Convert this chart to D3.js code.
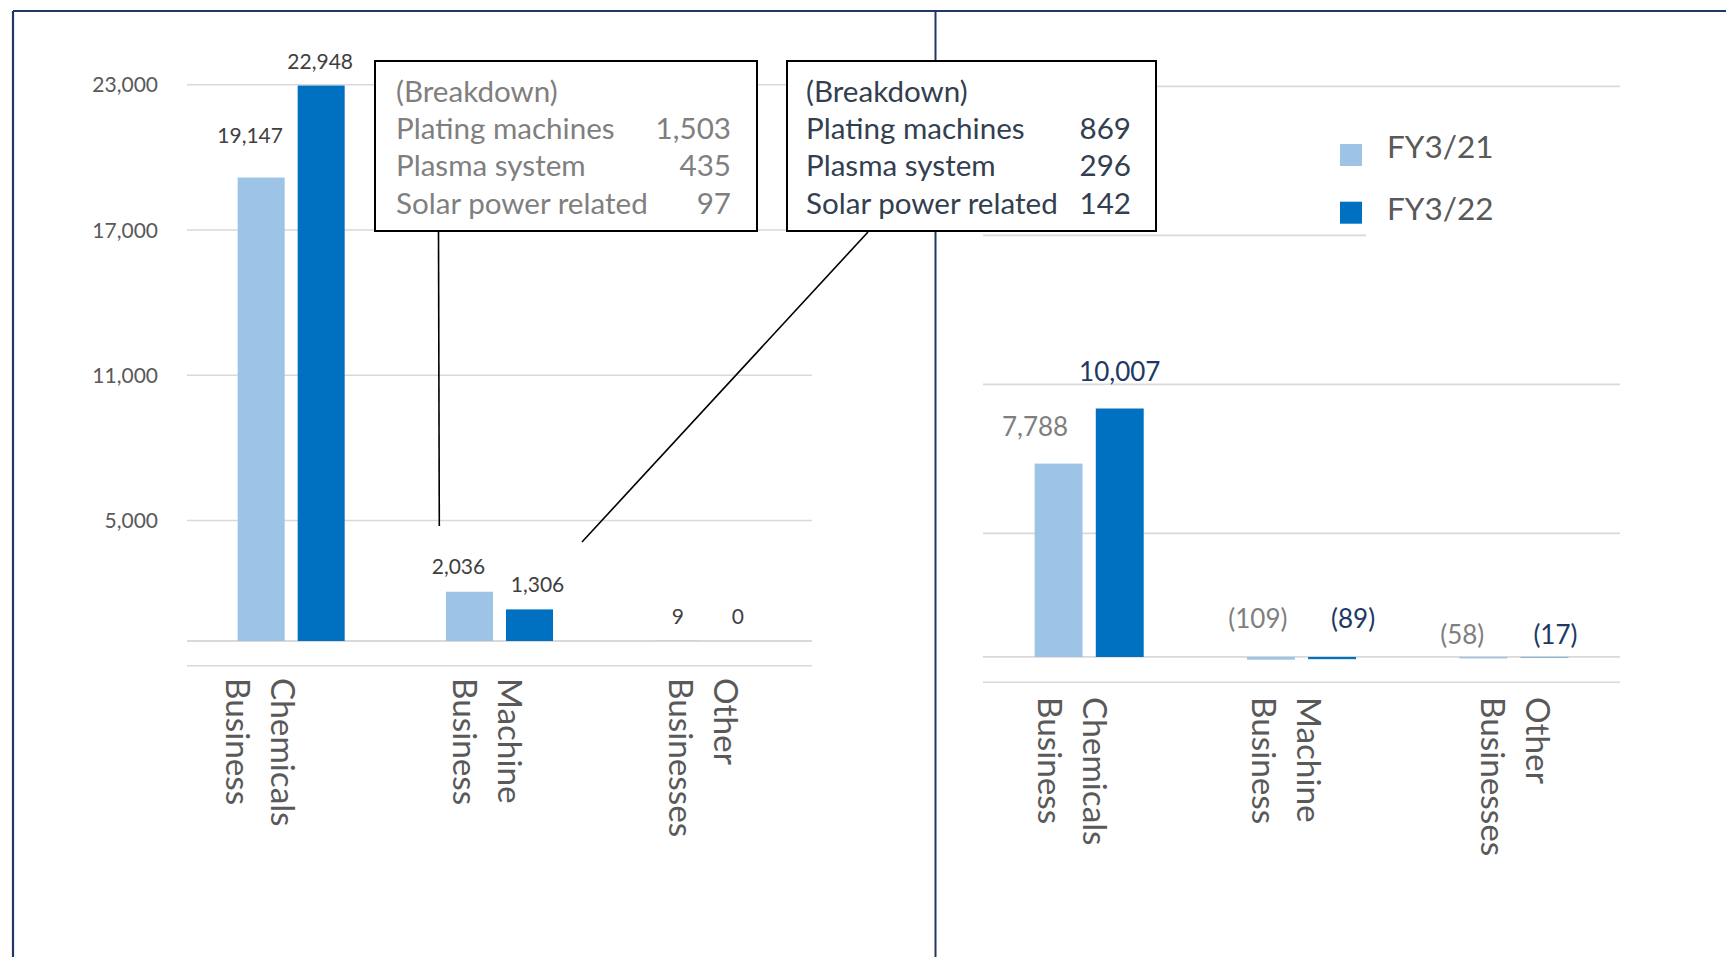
<!DOCTYPE html>
<html>
<head>
<meta charset="utf-8">
<script src="https://cdn.jsdelivr.net/npm/d3@7"></script>
<style>
  html, body { margin: 0; padding: 0; background: #fff; }
  svg { display: block; }
</style>
</head>
<body>
<script>
// ---------------- DATA ----------------
const categories = ["Chemicals Business", "Machine Business", "Other Businesses"];
const categoryLines = [["Chemicals", "Business"], ["Machine", "Business"], ["Other", "Businesses"]];
const series = ["FY3/21", "FY3/22"];
const salesFY21 = [19147, 2036, 9];
const salesFY22 = [22948, 1306, 0];
const profitFY21 = [7788, -109, -58];
const profitFY22 = [10007, -89, -17];
const gridTicks = [-1000, 5000, 11000, 17000, 23000];
const breakdownTitle = "(Breakdown)";
const breakdownItems = ["Plating machines", "Plasma system", "Solar power related"];
const breakdownFY21 = [1503, 435, 97];
const breakdownFY22 = [869, 296, 142];

// ---------------- STYLE ----------------
const W = 1726, H = 957;
const FONT = "Lato, 'Open Sans', sans-serif";
const colors = { "FY3/21": "#9DC3E6", "FY3/22": "#0070C0" };
const gridColor = "#D9D9D9";
const navy = "#1F3864";

const svg = d3.select("body").append("svg").attr("width", W).attr("height", H)
  .style("font-family", FONT);

// frame lines
svg.append("line").attr("x1", 13).attr("x2", W).attr("y1", 11).attr("y2", 11)
  .attr("stroke", navy).attr("stroke-width", 2.2);
svg.append("line").attr("x1", 13).attr("x2", 13).attr("y1", 11).attr("y2", H)
  .attr("stroke", navy).attr("stroke-width", 2.2);
svg.append("line").attr("x1", 935.5).attr("x2", 935.5).attr("y1", 11).attr("y2", H)
  .attr("stroke", navy).attr("stroke-width", 2);

// ---------------- CHART FACTORY ----------------
function drawChart(cfg) {
  const x0 = d3.scaleBand().domain(categories).range(cfg.xRange);
  const x1 = d3.scaleBand().domain(series).range([0, x0.bandwidth()])
    .paddingInner(0.2167).paddingOuter(0.844);
  const y = d3.scaleLinear().domain([gridTicks[0], gridTicks[gridTicks.length - 1]]).range(cfg.yRange);
  const g = svg.append("g");

  // gridlines + tick labels through axis
  const axis = d3.axisLeft(y).tickValues(gridTicks)
    .tickSize(-(cfg.xRange[1] - cfg.xRange[0])).tickPadding(29)
    .tickFormat(d => (cfg.showTicks && d > 0) ? d3.format(",")(d) : "");
  const ag = g.append("g").attr("transform", `translate(${cfg.xRange[0]},0)`).call(axis);
  ag.select(".domain").remove();
  ag.selectAll(".tick line").attr("stroke", gridColor).attr("stroke-width", 1.6);
  ag.selectAll(".tick text").attr("fill", "#595959").style("font-size", "21px")
    .style("font-family", FONT).attr("dy", "0.36em");

  // category axis line at zero
  g.append("line").attr("x1", cfg.xRange[0]).attr("x2", cfg.xRange[1])
    .attr("y1", y(0)).attr("y2", y(0)).attr("stroke", gridColor).attr("stroke-width", 1.8);

  const vals = { "FY3/21": cfg.v21, "FY3/22": cfg.v22 };
  const rows = [];
  categories.forEach((c, i) => series.forEach((s, j) => rows.push({ c, i, s, j, v: vals[s][i] })));

  g.selectAll("rect.bar").data(rows).join("rect").attr("class", "bar")
    .attr("x", d => x0(d.c) + x1(d.s))
    .attr("width", x1.bandwidth())
    .attr("y", d => y(Math.max(0, d.v)))
    .attr("height", d => Math.abs(y(d.v) - y(0)))
    .attr("fill", d => colors[d.s]);

  // value labels
  g.selectAll("text.val").data(rows).join("text").attr("class", "val")
    .attr("x", d => x0(d.c) + x1(d.s) + x1.bandwidth() / 2 + cfg.nudge[d.s][d.i][0])
    .attr("y", d => y(Math.max(0, d.v)) - cfg.labelGap + cfg.nudge[d.s][d.i][1])
    .attr("text-anchor", "middle")
    .style("font-size", cfg.labelSize + "px")
    .attr("fill", d => cfg.labelColor[d.s])
    .text(d => cfg.fmt(d.v));

  // category labels (rotated, two lines)
  categories.forEach((c, i) => {
    const bx = x0(c) + x0.bandwidth() / 2 + cfg.catNudge[i];
    const t = g.append("text")
      .attr("transform", `translate(${bx},${cfg.catTop}) rotate(90)`)
      .attr("fill", "#595959").style("font-size", "33.3px");
    categoryLines[i].forEach((ln, k) => {
      t.append("tspan").attr("x", 0).attr("y", k * 45).text(ln);
    });
  });
  return { x0, x1, y };
}

const fmtPlain = d3.format(",");
const fmtParen = v => v < 0 ? "(" + fmtPlain(-v) + ")" : fmtPlain(v);

drawChart({
  xRange: [187, 812], yRange: [665.2, 84.3], showTicks: true,
  v21: salesFY21, v22: salesFY22, labelGap: 17, labelSize: 21,
  labelColor: { "FY3/21": "#404040", "FY3/22": "#404040" },
  nudge: { "FY3/21": [[-11, -17.5], [-11, -0.5], [0, 0]], "FY3/22": [[-1, 0], [8, 0], [0, 0]] },
  fmt: fmtPlain, catNudge: [-20, -2, 6], catTop: 678
});

drawChart({
  xRange: [983, 1620], yRange: [681.8, 85.9], showTicks: false,
  v21: profitFY21, v22: profitFY22, labelGap: 28, labelSize: 26,
  labelColor: { "FY3/21": "#7F7F7F", "FY3/22": "#203864" },
  nudge: { "FY3/21": [[-23.5, 0], [-13, -1], [-21, 15]], "FY3/22": [[0, 0], [21, -1], [11, 15]] },
  fmt: fmtParen, catNudge: [-6, -5, 12], catTop: 697
});

// ---------------- BREAKDOWN BOXES ----------------
function drawBox(b) {
  const g = svg.append("g");
  g.append("rect").attr("x", b.x).attr("y", 61).attr("width", b.w).attr("height", 170)
    .attr("fill", "#fff").attr("stroke", "#000").attr("stroke-width", 2);
  const fs = 29.6;
  g.append("text").attr("x", b.tx).attr("y", 102).attr("fill", b.color)
    .style("font-size", fs + "px").text(breakdownTitle);
  breakdownItems.forEach((it, i) => {
    const yy = 138.5 + i * 37.7;
    g.append("text").attr("x", b.tx).attr("y", yy).attr("fill", b.color)
      .style("font-size", fs + "px").text(it);
    g.append("text").attr("x", b.vx).attr("y", yy).attr("fill", b.color)
      .attr("text-anchor", "end").style("font-size", fs + "px").text(fmtPlain(b.vals[i]));
  });
  g.append("line").attr("x1", b.l[0]).attr("y1", b.l[1]).attr("x2", b.l[2]).attr("y2", b.l[3])
    .attr("stroke", "#000").attr("stroke-width", 1.6);
}
drawBox({ x: 375, w: 382, tx: 396, vx: 731, color: "#7F7F7F", vals: breakdownFY21, l: [438.5, 232, 439.3, 526] });
drawBox({ x: 787, w: 369, tx: 806, vx: 1131, color: "#333F50", vals: breakdownFY22, l: [868, 232, 582, 542] });

// ---------------- LEGEND ----------------
const lg = svg.append("g");
lg.append("rect").attr("x", 1366).attr("y", 100).attr("width", 270).attr("height", 150).attr("fill", "#fff");
series.forEach((s, i) => {
  lg.append("rect").attr("x", 1340).attr("y", 144 + i * 57.7).attr("width", 22).attr("height", 22)
    .attr("fill", colors[s]);
  lg.append("text").attr("x", 1387).attr("y", 157.5 + i * 62.5).attr("fill", "#595959")
    .style("font-size", "31.5px").text(s);
});
</script>
</body>
</html>
